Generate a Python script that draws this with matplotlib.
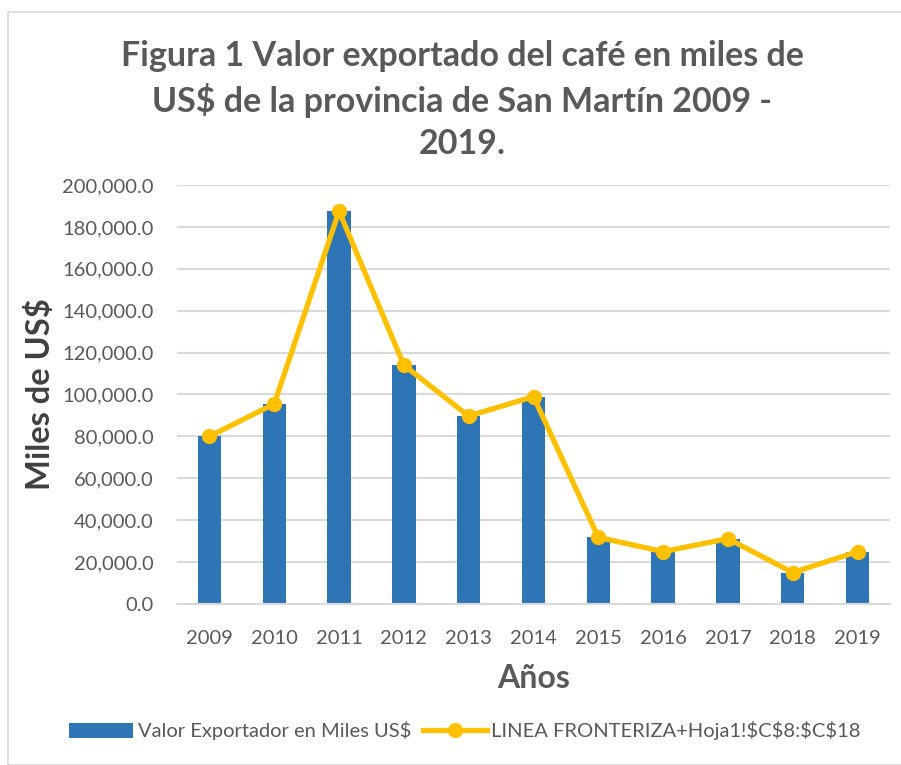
import matplotlib
matplotlib.use("Agg")
import matplotlib.pyplot as plt
from matplotlib.patches import Rectangle
from matplotlib.ticker import FuncFormatter

years = ["2009", "2010", "2011", "2012", "2013", "2014", "2015", "2016", "2017", "2018", "2019"]
valor_exportado = [80000, 95500, 187500, 114000, 89700, 99000, 31800, 25000, 31200, 15000, 25000]
linea_fronteriza = [80000, 95500, 187500, 114000, 89700, 99000, 31800, 25000, 31200, 15000, 25000]
yticks = [0, 20000, 40000, 60000, 80000, 100000, 120000, 140000, 160000, 180000, 200000]

plt.rcParams['font.family'] = ['Lato', 'DejaVu Sans']
plt.rcParams['text.parse_math'] = False

fig = plt.figure(figsize=(9.01, 7.65), dpi=100)
fig.patches.append(Rectangle((8/901, 0.0), 1.0, 1 - 12/765, transform=fig.transFigure,
                             fill=False, edgecolor='#d9d9d9', linewidth=1.2))
ax = fig.add_axes([177/901, 1 - 604/765, (890 - 177)/901, (604 - 185)/765])

x = list(range(len(years)))
bars = ax.bar(x, valor_exportado, width=0.36, color='#2e75b6', zorder=2,
              label='Valor Exportador en Miles US$')
line, = ax.plot(x, linea_fronteriza, color='#ffc000', linewidth=3.8, marker='o', markersize=10,
                zorder=3, label='LINEA FRONTERIZA+Hoja1!$C$8:$C$18')

ax.set_xlim(-0.5, len(years) - 0.5)
ax.set_ylim(0, 200000)
ax.set_yticks(yticks)
ax.yaxis.set_major_formatter(FuncFormatter(lambda v, p: f"{v:,.1f}"))
ax.set_xticks(x)
ax.set_xticklabels(years)
ax.grid(axis='y', color='#d9d9d9', linewidth=1.5, zorder=0)
ax.set_axisbelow(True)
for s in ['top', 'right', 'left']:
    ax.spines[s].set_visible(False)
ax.spines['bottom'].set_color('#d9d9d9')
ax.spines['bottom'].set_linewidth(1.5)
ax.tick_params(axis='both', length=0, labelsize=14.5, colors='#595959')
ax.tick_params(axis='y', pad=17)
ax.tick_params(axis='x', pad=19)

ax.set_xlabel('Años', fontsize=23, fontweight='bold', color='#595959', labelpad=12)
ax.set_ylabel('Miles de US$', fontsize=23.5, fontweight='bold', color='#404040')
ax.yaxis.set_label_coords(-122/713, 0.5)

fig.text(462/901, 1 - 100/765, 'Figura 1 Valor exportado del café en miles de\nUS$ de la provincia de San Martín 2009 -\n2019.',
         ha='center', va='center', fontsize=24.5, fontweight='bold', color='#595959', linespacing=1.4)

leg = fig.legend(handles=[bars, line], loc='center', bbox_to_anchor=(465/901, 1 - 731/765), ncol=2,
                 frameon=False, fontsize=14.5, labelcolor='#595959', handlelength=3.2,
                 handletextpad=0.2, columnspacing=0.6)

fig.savefig('out.png', dpi=100)
